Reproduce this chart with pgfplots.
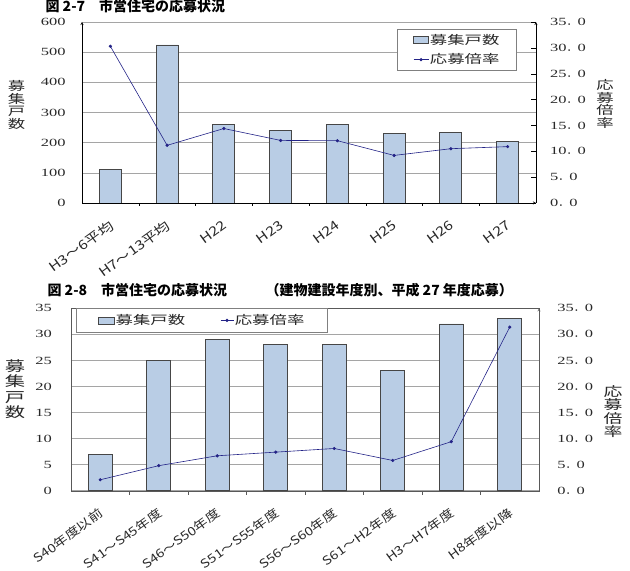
\documentclass[border=0pt]{standalone}
\usepackage{fontspec}
\usepackage{pgfplots}
\pgfplotsset{compat=1.18}
\newfontfamily\cjk{Noto Sans CJK JP}
\newfontfamily\cjkw[FakeStretch=1.45]{Noto Sans CJK JP}
\newfontfamily\cjkx[FakeStretch=1.2]{Noto Sans CJK JP}
\newfontfamily\numf[FakeStretch=1.5]{Liberation Serif}
\definecolor{barfill}{RGB}{185,205,229}
\definecolor{baredge}{RGB}{70,70,70}
\definecolor{linec}{RGB}{35,35,135}
\definecolor{gridc}{RGB}{165,165,165}
\definecolor{txt}{RGB}{40,40,40}
\newcommand{\fp}{{\cjk ．}}
\pgfplotsset{
  common/.style={
    scale only axis, anchor=south west,
    xmin=-0.5, xmax=7.5,
    /pgf/number format/assume math mode=true,
    axis line style={-},
  },
  xlab/.style={
    xticklabel style={font=\cjkx\fontsize{#1}{#1}\selectfont, text=txt, anchor=north east, inner sep=0pt, xshift=-2pt, yshift=-12pt, rotate=36},
  },
  leg/.style={
    legend style={draw=gray, fill=white, font=\cjkw\fontsize{12}{12}\selectfont, text=txt, nodes={inner sep=1pt}},
    legend cell align=left,
  },
}
\begin{document}
\begin{tikzpicture}[x=1pt,y=1pt]
\useasboundingbox (0,0) rectangle (630,571);
% ---------------- Chart 1 ----------------
\begin{axis}[common, xlab=13, at={(82pt,368pt)}, width=454pt, height=181pt,
  ymin=0, ymax=600, ytick={0,100,...,600},
  axis x line=bottom, axis y line=left,
  xtick={0,...,7},
  xticklabels={H3～6平均,H7～13平均,H22,H23,H24,H25,H26,H27},
  minor xtick={0.5,1.5,...,6.5},
  major x tick style={draw=none},
  minor x tick style={black},
  minor tick length=3pt,
  xtick align=inside,
  ytick style={draw=none},
  ymajorgrids, major grid style={gridc, line width=0.6pt},
  yticklabel style={font=\numf\fontsize{11}{11}\selectfont, text=txt, anchor=east, inner sep=0pt, xshift=-14pt},
  ybar, bar width=22pt,
]
\addplot[fill=barfill, draw=baredge, line width=0.8pt] coordinates {(0,110) (1,524) (2,261) (3,241) (4,261) (5,230) (6,235) (7,205)};
\end{axis}
\begin{axis}[common, leg, at={(82pt,368pt)}, width=454pt, height=181pt,
  ymin=0, ymax=35, ytick={0,5,...,35},
  yticklabels={0\fp0,5\fp0,10\fp0,15\fp0,20\fp0,25\fp0,30\fp0,35\fp0},
  axis x line=none, axis y line=right,
  ytick align=inside, major tick length=5pt, ytick style={black},
  yticklabel style={font=\numf\fontsize{11}{11}\selectfont, text=txt, anchor=west, inner sep=0pt, xshift=14pt},
  legend style={at={(0.694,0.961)}, anchor=north west, inner xsep=16pt, inner ysep=4pt, row sep=6pt},
]
\addlegendimage{legend image code/.code={\draw[fill=barfill, draw=baredge] (0pt,-3.5pt) rectangle (15pt,3.5pt);}}
\addlegendentry{募集戸数}
\addplot[linec, line width=0.6pt, mark=*, mark size=1.3pt,
  legend image code/.code={\draw[linec, line width=0.6pt] (0pt,0pt) -- (15pt,0pt); \fill[linec] (7.5pt,0pt) circle (1.3pt);}]
  coordinates {(0,30.3) (1,11.15) (2,14.4) (3,12.1) (4,12.05) (5,9.2) (6,10.5) (7,10.9)};
\addlegendentry{応募倍率}
\end{axis}
% ---------------- Chart 2 ----------------
\begin{axis}[common, xlab=12, at={(71pt,80.3pt)}, width=468pt, height=182.4pt,
  ymin=0, ymax=35, ytick={0,5,...,35},
  axis line style={black!65},
  xtick pos=left, ytick pos=left,
  xtick={0,...,7},
  xticklabels={S40年度以前,S41～S45年度,S46～S50年度,S51～S55年度,S56～S60年度,S61～H2年度,H3～H7年度,H8年度以降},
  minor xtick={0.5,1.5,...,6.5},
  major x tick style={draw=none},
  minor x tick style={black!65},
  minor tick length=4pt,
  xtick align=inside,
  ytick style={draw=none},
  ymajorgrids, major grid style={gridc, line width=0.6pt},
  yticklabel style={font=\numf\fontsize{11}{11}\selectfont, text=txt, anchor=east, inner sep=0pt, xshift=-19pt},
  ybar, bar width=24pt,
]
\addplot[fill=barfill, draw=baredge, line width=0.8pt] coordinates {(0,7) (1,25) (2,29) (3,28) (4,28) (5,23) (6,32) (7,33)};
\end{axis}
\begin{axis}[common, leg, at={(71pt,80.3pt)}, width=468pt, height=182.4pt,
  ymin=0, ymax=35, ytick={0,5,...,35},
  yticklabels={0\fp0,5\fp0,10\fp0,15\fp0,20\fp0,25\fp0,30\fp0,35\fp0},
  axis x line=none, axis y line=right,
  axis line style={black!65},
  ytick style={draw=none},
  yticklabel style={font=\numf\fontsize{11}{11}\selectfont, text=txt, anchor=west, inner sep=0pt, xshift=16pt},
  legend columns=2,
  legend style={at={(0.0107,1)}, anchor=north west, inner xsep=22pt, inner ysep=5pt,
    /tikz/every even column/.append style={column sep=34pt}},
]
\addlegendimage{legend image code/.code={\draw[fill=barfill, draw=baredge] (0pt,-3.5pt) rectangle (16pt,3.5pt);}}
\addlegendentry{募集戸数}
\addplot[linec, line width=0.6pt, mark=*, mark size=1.3pt,
  legend image code/.code={\draw[linec, line width=0.6pt] (0pt,0pt) -- (13pt,0pt); \fill[linec] (6.5pt,0pt) circle (1.3pt);}]
  coordinates {(0,2.1) (1,4.8) (2,6.7) (3,7.4) (4,8.1) (5,5.8) (6,9.4) (7,31.4)};
\addlegendentry{応募倍率}
\end{axis}
% ---------------- Titles and axis labels ----------------
\node[anchor=west, font=\cjk\bfseries\fontsize{14}{14}\selectfont] at (42,565) {図 2-7　市営住宅の応募状況};
\node[anchor=west, font=\cjk\bfseries\fontsize{14}{14}\selectfont] at (44,281) {図 2-8　市営住宅の応募状況};
\node[anchor=west, font=\cjk\bfseries\fontsize{14}{14}\selectfont] at (262,281) {（建物建設年度別、平成 27 年度応募）};
\node[align=center, font=\cjkw\fontsize{12}{12.5}\selectfont, text=txt] at (16.5,466) {募\\集\\戸\\数};
\node[align=center, font=\cjkw\fontsize{12}{12.5}\selectfont, text=txt] at (605,467) {応\\募\\倍\\率};
\node[align=center, font=\cjkw\fontsize{14}{15.5}\selectfont, text=txt] at (15,182) {募\\集\\戸\\数};
\node[align=center, font=\cjkw\fontsize{13}{13.5}\selectfont, text=txt] at (613,159.5) {応\\募\\倍\\率};
\end{tikzpicture}
\end{document}
